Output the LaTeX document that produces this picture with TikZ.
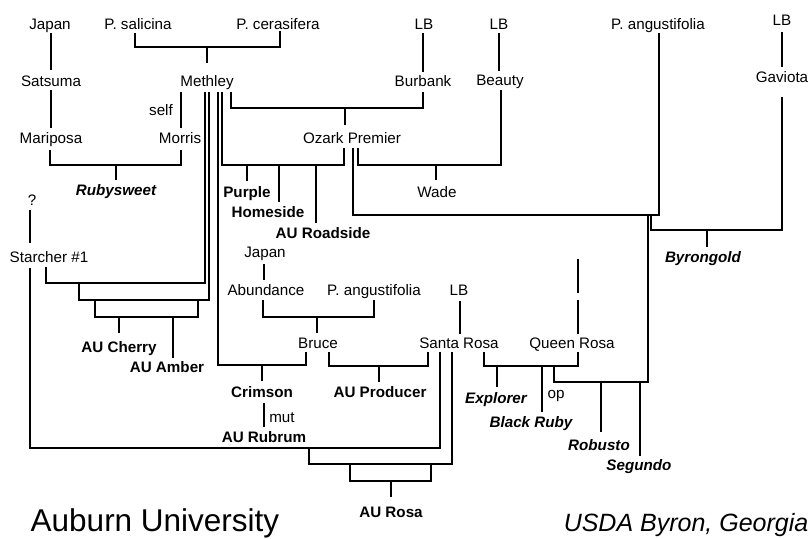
\documentclass[tikz,border=0pt]{standalone}
\usepackage{fontspec}
\setmainfont{Liberation Sans}
\begin{document}
\begin{tikzpicture}[x=1pt,y=-1pt,line width=1.4pt,
  lbl/.style={anchor=base,inner sep=0pt,font=\fontsize{15.2}{18}\selectfont},
  cv/.style={anchor=base,inner sep=0pt,font=\fontsize{15.2}{18}\selectfont\bfseries},
  cvi/.style={anchor=base,inner sep=0pt,font=\fontsize{15.2}{18}\selectfont\bfseries\itshape},
  big/.style={inner sep=0pt,font=\fontsize{31.5}{36}\selectfont}]
\useasboundingbox (0,0) rectangle (811,538);
% ---------- labels ----------
\node[lbl] (japan1) at (50,29) {Japan};
\node[lbl] (psal) at (138,29) {P. salicina};
\node[lbl] (pcer) at (278,29) {P. cerasifera};
\node[lbl] (lbA) at (424,29) {LB};
\node[lbl] (lbB) at (499,29) {LB};
\node[lbl] (pang1) at (658,29) {P. angustifolia};
\node[lbl] (lbC) at (782,25) {LB};
\node[lbl] (satsuma) at (51,86) {Satsuma};
\node[lbl] (methley) at (207,86) {Methley};
\node[lbl] (burbank) at (423,86) {Burbank};
\node[lbl] (beauty) at (500,85) {Beauty};
\node[lbl] (gaviota) at (782,82) {Gaviota};
\node[lbl] (self) at (161,115) {self};
\node[lbl] (mariposa) at (51,143) {Mariposa};
\node[lbl] (morris) at (180,143) {Morris};
\node[lbl] (ozark) at (352,143) {Ozark Premier};
\node[cvi] (rubysweet) at (116,195) {Rubysweet};
\node[lbl] (wade) at (437,197) {Wade};
\node[cv] (purple) at (247,197) {Purple};
\node[cv] (homeside) at (268,217) {Homeside};
\node[cv] (roadside) at (323,238) {AU Roadside};
\node[cvi] (byrongold) at (703,262) {Byrongold};
\node[lbl] (qmark) at (32,205) {?};
\node[lbl] (starcher) at (49,262) {Starcher \#1};
\node[lbl] (japan2) at (265,257) {Japan};
\node[lbl] (abundance) at (266,295) {Abundance};
\node[lbl] (pang2) at (374,295) {P. angustifolia};
\node[lbl] (lbD) at (459,295) {LB};
\node[lbl] (bruce) at (318,348) {Bruce};
\node[lbl] (santarosa) at (459,348) {Santa Rosa};
\node[lbl] (queenrosa) at (572,348) {Queen Rosa};
\node[cv] (aucherry) at (119,352) {AU Cherry};
\node[cv] (auamber) at (167,372) {AU Amber};
\node[cv] (crimson) at (262,397) {Crimson};
\node[cv] (producer) at (380,397) {AU Producer};
\node[cvi] (explorer) at (496,403) {Explorer};
\node[lbl] (op) at (556,398) {op};
\node[cvi] (blackruby) at (531,427) {Black Ruby};
\node[lbl] (mut) at (282,422) {mut};
\node[cv] (rubrum) at (264,442) {AU Rubrum};
\node[cvi] (robusto) at (599,450) {Robusto};
\node[cvi] (segundo) at (639,470) {Segundo};
\node[cv] (aurosa) at (391,517) {AU Rosa};
\node[big,anchor=base west] (auburn) at (30,531) {Auburn University};
\node[big,anchor=base east,font=\fontsize{25}{30}\selectfont\itshape] (usda) at (809,531) {USDA Byron, Georgia};
% ---------- joints ----------
\coordinate (mej) at (207,47);
\coordinate (rsj) at (116,165);
\coordinate (ozj) at (345,108);
\coordinate (wdj) at (436,165);
\coordinate (ppj) at (279,165);
\coordinate (puj) at (247,165);
\coordinate (rdj) at (316,165);
\coordinate (crj) at (262,365);
\coordinate (s1j) at (79,283);
\coordinate (s2j) at (95,300);
\coordinate (s3j) at (198,300);
\coordinate (chj) at (119,317);
\coordinate (amj) at (173,317);
\coordinate (paj) at (648,215);
\coordinate (byj0) at (651,215);
\coordinate (byj) at (707,230);
\coordinate (sej) at (640,382);
\coordinate (robj) at (601,382);
\coordinate (qrj2) at (554,366);
\coordinate (qrt1) at (578,259);
\coordinate (qrt2) at (578,293);
\coordinate (qrt3) at (578,300);
\coordinate (exj) at (497,366);
\coordinate (brj) at (542,366);
\coordinate (bcj) at (317,317);
\coordinate (apj) at (379,366);
\coordinate (rbj) at (309,448);
\coordinate (rsj2) at (350,464);
\coordinate (rsj3) at (431,464);
\coordinate (arj) at (391,481);
% ---------- connectors ----------
\draw ([shift={(1,4)}]japan1.base) -- ([shift={(0,-16)}]satsuma.base);
\draw ([shift={(0,4)}]satsuma.base) -- ([shift={(0,-15)}]mariposa.base);
\draw ([shift={(-26,6)}]methley.base) -- ([shift={(1,-15)}]morris.base);
\draw ([shift={(-1,7)}]mariposa.base) |- (rsj) -| ([shift={(1,7)}]morris.base);
\draw (rsj) -- ([shift={(0,-15)}]rubysweet.base);
\draw ([shift={(-3,4)}]psal.base) |- (mej) -| ([shift={(2,2)}]pcer.base);
\draw (mej) -- ([shift={(0,-23)}]methley.base);
\draw ([shift={(-1,4)}]lbA.base) -- ([shift={(0,-14)}]burbank.base);
\draw ([shift={(24,6)}]methley.base) |- (ozj) -| ([shift={(0,6)}]burbank.base);
\draw (ozj) -- ([shift={(-7,-18)}]ozark.base);
\draw ([shift={(0,4)}]lbB.base) -- ([shift={(-1,-14)}]beauty.base);
\draw ([shift={(6,5)}]ozark.base) |- (wdj) -| ([shift={(1,5)}]beauty.base);
\draw (wdj) -- ([shift={(-1,-17)}]wade.base);
\draw ([shift={(15,6)}]methley.base) |- (ppj) -| ([shift={(-8,5)}]ozark.base);
\draw (puj) -- ([shift={(0,-16)}]purple.base);
\draw (ppj) -- ([shift={(11,-15)}]homeside.base);
\draw (rdj) -- ([shift={(-7,-15)}]roadside.base);
\draw ([shift={(11,6)}]methley.base) |- (crj) -| ([shift={(-12,4)}]bruce.base);
\draw (crj) -- ([shift={(0,-16)}]crimson.base);
\draw ([shift={(-3,5)}]starcher.base) |- (s1j) -| ([shift={(-2,6)}]methley.base);
\draw (s1j) |- (s2j) -| ([shift={(2,6)}]methley.base);
\draw (s2j) |- (chj) -| (s3j);
\draw (chj) -- ([shift={(0,-19)}]aucherry.base);
\draw (amj) -- ([shift={(6,-14)}]auamber.base);
\draw ([shift={(1,5)}]ozark.base) |- (paj) -| ([shift={(1,4)}]pang1.base);
\draw (byj0) |- (byj) -| ([shift={(0,15)}]gaviota.base);
\draw (byj) -- ([shift={(4,-15)}]byrongold.base);
\draw ([shift={(0,7)}]lbC.base) -- ([shift={(0,-15)}]gaviota.base);
\draw (paj) |- (sej) -| (qrj2);
\draw (robj) -- ([shift={(2,-18)}]robusto.base);
\draw (sej) -- ([shift={(1,-14)}]segundo.base);
\draw (qrt1) -- (qrt2);
\draw (qrt3) -- ([shift={(6,-14)}]queenrosa.base);
\draw ([shift={(25,4)}]santarosa.base) |- (exj) -| ([shift={(6,4)}]queenrosa.base);
\draw (exj) -- ([shift={(1,-16)}]explorer.base);
\draw (brj) -- ([shift={(11,-15)}]blackruby.base);
\draw ([shift={(1,6)}]lbD.base) -- ([shift={(1,-14)}]santarosa.base);
\draw ([shift={(-1,7)}]japan2.base) -- ([shift={(-2,-15)}]abundance.base);
\draw ([shift={(-3,5)}]abundance.base) |- (bcj) -| ([shift={(0,5)}]pang2.base);
\draw (bcj) -- ([shift={(-1,-15)}]bruce.base);
\draw ([shift={(11,4)}]bruce.base) |- (apj) -| ([shift={(-31,4)}]santarosa.base);
\draw (apj) -- ([shift={(-1,-15)}]producer.base);
\draw ([shift={(-2,5)}]qmark.base) -- ([shift={(-19,-19)}]starcher.base);
\draw ([shift={(-19,6)}]starcher.base) |- (rbj) -| ([shift={(-19,4)}]santarosa.base);
\draw (rbj) |- (rsj2) -| ([shift={(-7,4)}]santarosa.base);
\draw (rsj2) |- (arj) -| (rsj3);
\draw (arj) -- ([shift={(0,-20)}]aurosa.base);
\draw ([shift={(2,6)}]crimson.base) -- ([shift={(0,-15)}]rubrum.base);
\end{tikzpicture}
\end{document}
